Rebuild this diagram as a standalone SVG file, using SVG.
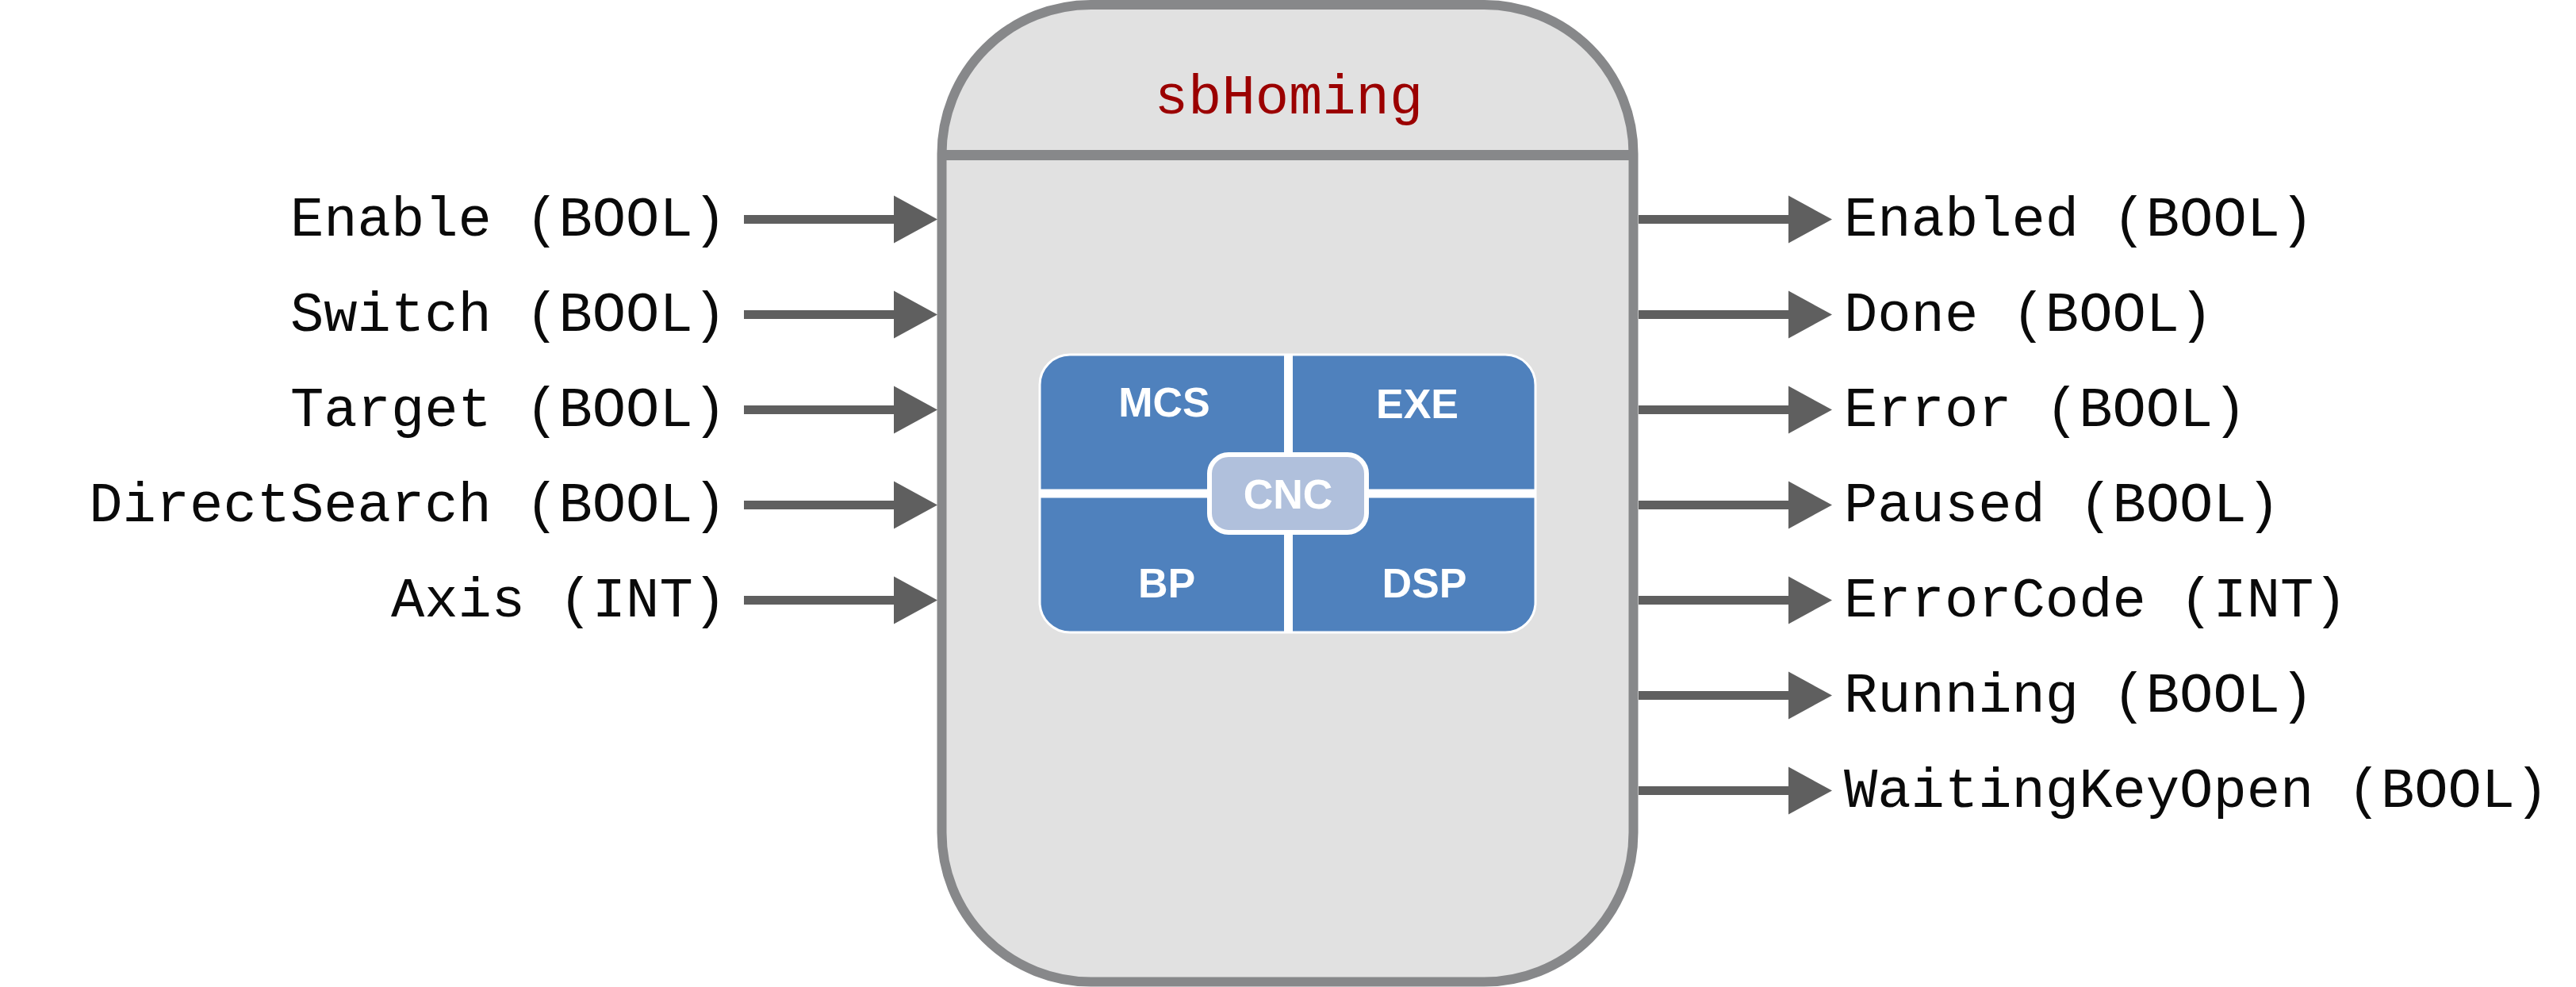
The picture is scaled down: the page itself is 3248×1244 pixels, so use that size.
<svg xmlns="http://www.w3.org/2000/svg" width="3248" height="1244" viewBox="0 0 3248 1244">
<style>
.lbl{font-family:"Liberation Mono","Courier New",monospace;font-size:70.5px;fill:#0a0a0a}
.title{font-family:"Liberation Mono","Courier New",monospace;font-size:70.5px;fill:#9b0000}
.cell{font-family:"Liberation Sans",Arial,sans-serif;font-weight:bold;font-size:52px;fill:#fff;text-anchor:middle}
.shaft{stroke:#5f5f5f;stroke-width:11;fill:none}
.head{fill:#5f5f5f}
</style>
<defs>
<g id="arrow">
<line class="shaft" x1="0" y1="0" x2="192" y2="0"/>
<polygon class="head" points="189,-30 244,0 189,30"/>
</g>
</defs>
<rect width="3248" height="1244" fill="#fff"/>
<g id="block">
<path d="M1375.5,6 H1871.5 A188,188 0 0 1 2059.5,194 V1049.5 A188,188 0 0 1 1871.5,1237.5 H1375.5 A188,188 0 0 1 1187.5,1049.5 V194 A188,188 0 0 1 1375.5,6 Z" fill="#e1e1e1" stroke="#87888a" stroke-width="12"/>
<line x1="1187.5" y1="195.5" x2="2059.5" y2="195.5" stroke="#87888a" stroke-width="13"/>
<text class="title" x="1625" y="143" text-anchor="middle">sbHoming</text>
</g>
<g id="cnc-panel">
<rect x="1311" y="447" width="625" height="350" rx="38" ry="38" fill="#4f81bd" stroke="#fff" stroke-width="3"/>
<line x1="1624.5" y1="447" x2="1624.5" y2="797" stroke="#fff" stroke-width="11"/>
<line x1="1311" y1="622" x2="1936" y2="622" stroke="#fff" stroke-width="11"/>
<text class="cell" x="1468" y="525">MCS</text>
<text class="cell" x="1787" y="527">EXE</text>
<text class="cell" x="1471" y="753">BP</text>
<text class="cell" x="1796" y="753">DSP</text>
<rect x="1525" y="573" width="198" height="98" rx="24" ry="24" fill="#b0c0dc" stroke="#fff" stroke-width="6"/>
<text class="cell" x="1624" y="641">CNC</text>
</g>
<g id="connectors">
<use href="#arrow" x="938" y="276.5"/>
<use href="#arrow" x="938" y="396.5"/>
<use href="#arrow" x="938" y="516.5"/>
<use href="#arrow" x="938" y="636.5"/>
<use href="#arrow" x="938" y="756.5"/>
<use href="#arrow" x="2066" y="276.5"/>
<use href="#arrow" x="2066" y="396.5"/>
<use href="#arrow" x="2066" y="516.5"/>
<use href="#arrow" x="2066" y="636.5"/>
<use href="#arrow" x="2066" y="756.5"/>
<use href="#arrow" x="2066" y="876.5"/>
<use href="#arrow" x="2066" y="996.5"/>
</g>
<g id="inputs" text-anchor="end">
<text class="lbl" x="916" y="297">Enable (BOOL)</text>
<text class="lbl" x="916" y="417">Switch (BOOL)</text>
<text class="lbl" x="916" y="537">Target (BOOL)</text>
<text class="lbl" x="916" y="657">DirectSearch (BOOL)</text>
<text class="lbl" x="916" y="777">Axis (INT)</text>
</g>
<g id="outputs">
<text class="lbl" x="2325" y="297">Enabled (BOOL)</text>
<text class="lbl" x="2325" y="417">Done (BOOL)</text>
<text class="lbl" x="2325" y="537">Error (BOOL)</text>
<text class="lbl" x="2325" y="657">Paused (BOOL)</text>
<text class="lbl" x="2325" y="777">ErrorCode (INT)</text>
<text class="lbl" x="2325" y="897">Running (BOOL)</text>
<text class="lbl" x="2325" y="1017">WaitingKeyOpen (BOOL)</text>
</g>
</svg>
